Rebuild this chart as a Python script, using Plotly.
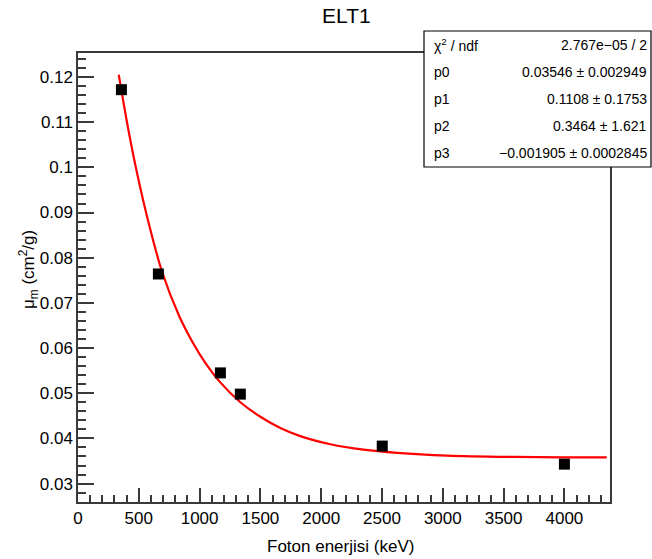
import plotly.graph_objects as go

# ---- data ----
energy_keV = [357, 661, 1171, 1335, 2502, 4000]
mu_m = [0.1172, 0.0764, 0.0545, 0.0498, 0.0383, 0.0343]

fit_x = [335, 370, 420, 490, 580, 690, 830, 940, 1050, 1170, 1335, 1500, 1664,
         1828, 2075, 2348, 2623, 3034, 3581, 4000, 4348]
fit_y = [0.1205, 0.1150, 0.1075, 0.0982, 0.0878, 0.0770, 0.0672, 0.0614, 0.0566,
         0.0524, 0.0480, 0.0448, 0.0423, 0.0405, 0.0387, 0.0375, 0.0368, 0.0362,
         0.0359, 0.0358, 0.0358]

stat_names = ["χ<sup>2</sup> / ndf", "p0", "p1", "p2", "p3"]
stat_values = ["2.767e\u221205 / 2", "0.03546 ± 0.002949", "0.1108 ± 0.1753",
               "0.3464 ± 1.621", "\u22120.001905 ± 0.0002845"]

title_text = "ELT1"
x_title = "Foton enerjisi (keV)"
y_title = "μ<sub>m</sub> (cm<sup>2</sup>/g)"

# ---- layout geometry (pixels) ----
W, H = 652, 559
L, R, T, B = 78, 610, 53, 502

def px_x(p):
    return (p - L) / (R - L)

def px_y(p):
    return (B - p) / (B - T)

FONT = "Liberation Sans, Arial, Helvetica, sans-serif"

fig = go.Figure()
fig.add_trace(go.Scatter(x=fit_x, y=fit_y, mode="lines",
                         line=dict(color="#ff0000", width=2.2, shape="spline", smoothing=0.8),
                         showlegend=False, hoverinfo="skip"))
fig.add_trace(go.Scatter(x=energy_keV, y=mu_m, mode="markers",
                         marker=dict(symbol="square", size=11, color="black"), showlegend=False))

axis_common = dict(showgrid=False, zeroline=False, showline=True, mirror=True,
                   linecolor="#3a3a3a", linewidth=1.5, ticks="inside",
                   tickcolor="#3a3a3a", tickwidth=1.5,
                   tickfont=dict(family=FONT, size=17, color="black"))

fig.update_xaxes(range=[0, 4375], dtick=500, tick0=0, ticklen=14,
                 minor=dict(ticks="inside", dtick=100, ticklen=7, tickcolor="#3a3a3a", tickwidth=1.5),
                 **axis_common)
fig.update_yaxes(range=[0.02592, 0.12532], dtick=0.01, tick0=0, ticklen=16,
                 minor=dict(ticks="inside", dtick=0.002, ticklen=8, tickcolor="#3a3a3a", tickwidth=1.5),
                 **axis_common)

annotations = [
    dict(text=title_text, x=px_x(346), y=px_y(16), xref="paper", yref="paper",
         showarrow=False, xanchor="center", yanchor="middle",
         font=dict(family=FONT, size=21, color="black")),
    dict(text=x_title, x=px_x(340), y=px_y(546), xref="paper", yref="paper",
         showarrow=False, xanchor="center", yanchor="middle",
         font=dict(family=FONT, size=17, color="black")),
    dict(text=y_title, x=px_x(28), y=px_y(270), xref="paper", yref="paper",
         showarrow=False, xanchor="center", yanchor="middle", textangle=-90,
         font=dict(family=FONT, size=17, color="black")),
]

box_top, box_bot, box_left, box_right = 31, 167, 424, 651
row_y = [45, 72, 99, 126, 153]
for name, val, ry in zip(stat_names, stat_values, row_y):
    annotations.append(dict(text=name, x=px_x(432), y=px_y(ry), xref="paper", yref="paper",
                            showarrow=False, xanchor="left", yanchor="middle",
                            font=dict(family=FONT, size=14, color="black")))
    annotations.append(dict(text=val, x=px_x(649), y=px_y(ry), xref="paper", yref="paper",
                            showarrow=False, xanchor="right", yanchor="middle",
                            font=dict(family=FONT, size=14, color="black")))

fig.update_layout(
    width=W, height=H, autosize=False,
    margin=dict(l=L, r=W - R, t=T, b=H - B, pad=0),
    paper_bgcolor="white", plot_bgcolor="white",
    annotations=annotations,
    shapes=[dict(type="rect", xref="paper", yref="paper",
                 x0=px_x(box_left), x1=px_x(box_right), y0=px_y(box_bot), y1=px_y(box_top),
                 line=dict(color="black", width=1.2), fillcolor="white", layer="above")],
)

fig.write_html("out.html", config={"displayModeBar": False},
               post_script="document.body.style.margin='0';document.body.style.overflow='hidden';")
